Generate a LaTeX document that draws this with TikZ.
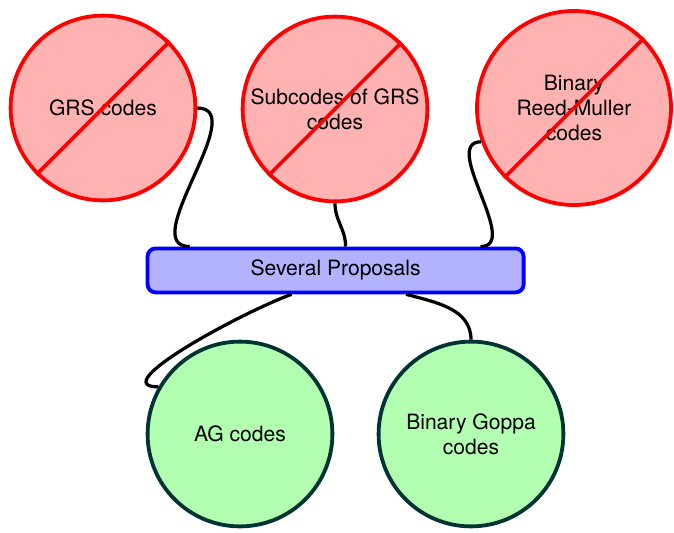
\documentclass[tikz,border=0pt]{standalone}
\usepackage{fontspec}
\setmainfont{TeX Gyre Heros}
\definecolor{darkteal}{HTML}{003333}
\begin{document}
\begin{tikzpicture}[
	every node/.style={font=\fontsize{15}{18}\selectfont},
	nogo/.style={circle,draw=red,fill=red!30,line width=2.7pt,minimum size=4.62cm,align=center,inner sep=0pt},
	goodcode/.style={circle,draw=darkteal,fill=green!30,line width=2.7pt,minimum size=4.62cm,align=center,inner sep=0pt},
	prop/.style={rectangle,rounded corners=0.2cm,draw=blue,fill=blue!30,line width=2.7pt,minimum width=9.4cm,minimum height=1.1cm},
	link/.style={line width=2.3pt,black}]
			\useasboundingbox (0,0) rectangle (16.85,-13.3);
			\node[nogo] (grs) at (2.575,-2.7) {GRS codes};
			\node[nogo] (sub) at (8.375,-2.725) {Subcodes of GRS\\codes};
			\node[nogo,minimum size=4.85cm] (rm) at (14.35,-2.7) {Binary\\Reed-Muller\\codes};
			\foreach \n in {grs,sub,rm}{
				\draw [red,line width=2.7pt] (\n.north east)--(\n.south west);
			}
			\node[prop] (sp) at (8.39,-6.76) {Several Proposals};
			\node[goodcode] (ag) at (6.0,-10.85) {AG codes};
			\node[goodcode] (goppa) at (11.775,-10.85) {Binary Goppa\\codes};
			\draw [link] (grs.east) to[out=0,in=180] ([xshift=1.1cm]sp.north west);
			\draw [link] (sub.south) to[out=-90,in=90] ([xshift=0.25cm]sp.north);
			\draw [link] (rm.200) to[out=180,in=0] ([xshift=-1.125cm]sp.north east);
			\draw [link] ([xshift=-1.1cm]sp.south) to[out=200,in=180,looseness=0.85] (ag.150);
			\draw [link] ([xshift=1.76cm]sp.south) to[out=-15,in=90] (goppa.north);
\end{tikzpicture}
\end{document}
